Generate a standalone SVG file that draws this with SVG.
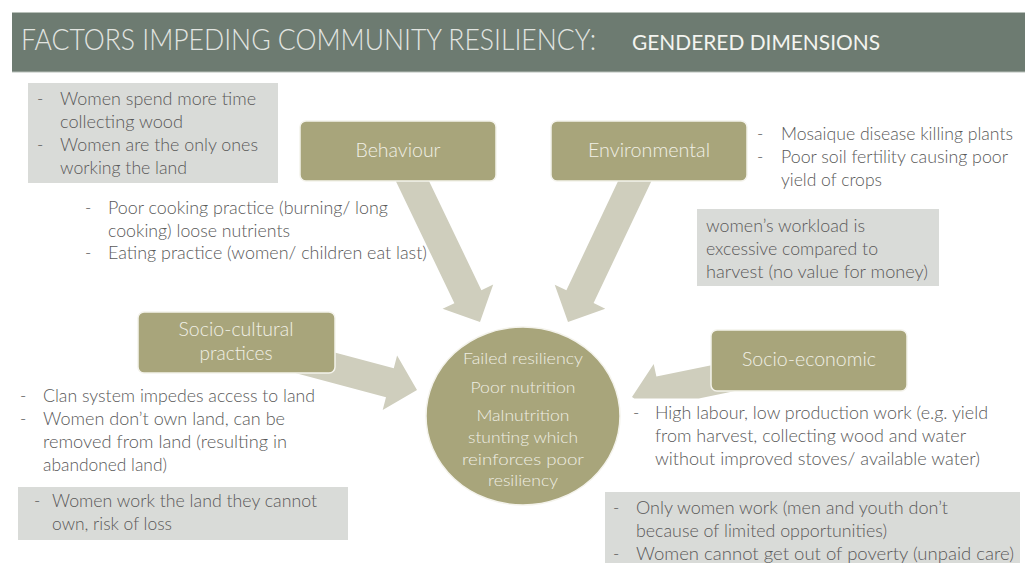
<svg xmlns="http://www.w3.org/2000/svg" width="1025" height="563" viewBox="0 0 1025 563">
  <style>
    .t { font-family: Lato, "Open Sans", "Liberation Sans", sans-serif; font-weight: 300; }
    .bul { font-size: 17px; fill: #595959; }
    .lbl { font-size: 19px; fill: #f1f0e6; text-anchor: middle; }
    .ctr { font-size: 16.5px; fill: #efeee3; text-anchor: middle; }
    .note { fill: #d9dbd8; }
    .box { fill: #a8a57b; stroke: #f4f3ec; stroke-width: 1.5; }
    .arrow { fill: #cfcebd; }
  </style>

  <rect width="1025" height="563" fill="#ffffff"/>

  <!-- title band -->
  <g id="title">
    <rect x="12" y="12.5" width="1013" height="59.5" fill="#6d7b71"/>
    <line x1="12" y1="12.5" x2="1025" y2="12.5" stroke="#b8c0b9" stroke-width="1.2"/>
    <line x1="12" y1="72" x2="1025" y2="72" stroke="#b8c0b9" stroke-width="1.2"/>
    <text class="t" x="21" y="50" font-size="29" fill="#e2e5e1" textLength="575" lengthAdjust="spacingAndGlyphs">FACTORS IMPEDING COMMUNITY RESILIENCY:</text>
    <text x="632" y="50" font-family="Lato, 'Open Sans', 'Liberation Sans', sans-serif" font-size="21" fill="#f3f4f0" textLength="248" lengthAdjust="spacingAndGlyphs">GENDERED DIMENSIONS</text>
  </g>

  <!-- block arrows converging on the centre -->
  <g id="connectors">
    <polygon class="arrow" points="384.5,157.5 454.4,303.2 442.6,308.8 480,322 493.2,284.6 481.4,290.2 411.5,144.5"/>
    <polygon class="arrow" points="635.4,144.6 566.4,290.3 554.7,284.7 568,322 605.3,308.7 593.6,303.1 662.6,157.4"/>
    <polygon class="arrow" points="240.9,327.5 393.8,368.3 397.1,355.6 417,390 382.7,409.9 386,397.3 233.1,356.5"/>
    <polygon class="arrow" points="632,397 653.7,363.9 656.4,376.6 806,345.8 812,375.2 698.8,398.5 634.3,398.5"/>
  </g>

  <!-- behaviour -->
  <g id="behaviour">
    <rect class="box" x="300" y="121" width="196" height="60" rx="6"/>
    <text class="t lbl" x="398" y="157" textLength="85" lengthAdjust="spacingAndGlyphs">Behaviour</text>
  </g>
  <g id="behaviour-notes" class="t bul">
    <text x="85" y="214">-</text>
    <text x="108" y="214" textLength="280" lengthAdjust="spacingAndGlyphs">Poor cooking practice (burning/ long</text>
    <text x="108" y="237" textLength="182" lengthAdjust="spacingAndGlyphs">cooking) loose nutrients</text>
    <text x="85" y="259">-</text>
    <text x="108" y="259" textLength="319" lengthAdjust="spacingAndGlyphs">Eating practice (women/ children eat last)</text>
  </g>
  <g id="women-time">
    <rect class="note" x="28" y="83" width="250" height="100"/>
    <g class="t bul">
      <text x="37" y="105">-</text>
      <text x="60" y="105" textLength="196" lengthAdjust="spacingAndGlyphs">Women spend  more time</text>
      <text x="60" y="128" textLength="123" lengthAdjust="spacingAndGlyphs">collecting wood</text>
      <text x="37" y="151">-</text>
      <text x="60" y="151" textLength="198" lengthAdjust="spacingAndGlyphs">Women are the only ones</text>
      <text x="60" y="174" textLength="127" lengthAdjust="spacingAndGlyphs">working the land</text>
    </g>
  </g>

  <!-- environmental -->
  <g id="environmental">
    <rect class="box" x="551" y="121" width="196" height="60" rx="6"/>
    <text class="t lbl" x="649" y="157" textLength="122" lengthAdjust="spacingAndGlyphs">Environmental</text>
  </g>
  <g id="environmental-notes" class="t bul">
    <text x="757" y="140">-</text>
    <text x="781" y="140" textLength="232" lengthAdjust="spacingAndGlyphs">Mosaique disease killing plants</text>
    <text x="757" y="163">-</text>
    <text x="781" y="163" textLength="227" lengthAdjust="spacingAndGlyphs">Poor soil fertility causing poor</text>
    <text x="781" y="186" textLength="101" lengthAdjust="spacingAndGlyphs">yield of crops</text>
  </g>
  <g id="workload">
    <rect class="note" x="697" y="209" width="242" height="77"/>
    <g class="t bul">
      <text x="706" y="232" textLength="159" lengthAdjust="spacingAndGlyphs">women’s workload is</text>
      <text x="706" y="255" textLength="172" lengthAdjust="spacingAndGlyphs">excessive compared to</text>
      <text x="706" y="278" textLength="222" lengthAdjust="spacingAndGlyphs">harvest (no value for money)</text>
    </g>
  </g>

  <!-- socio-cultural practices -->
  <g id="socio-cultural">
    <rect class="box" x="138" y="312" width="197" height="61" rx="6"/>
    <text class="t lbl" x="236" y="336" textLength="115" lengthAdjust="spacingAndGlyphs">Socio-cultural</text>
    <text class="t lbl" x="236" y="360" textLength="73" lengthAdjust="spacingAndGlyphs">practices</text>
  </g>
  <g id="socio-cultural-notes" class="t bul">
    <text x="20" y="402">-</text>
    <text x="43" y="402" textLength="272" lengthAdjust="spacingAndGlyphs">Clan system impedes access to land</text>
    <text x="20" y="425">-</text>
    <text x="43" y="425" textLength="242" lengthAdjust="spacingAndGlyphs">Women don’t own land, can be</text>
    <text x="43" y="448" textLength="244" lengthAdjust="spacingAndGlyphs">removed from land (resulting in</text>
    <text x="43" y="471" textLength="124" lengthAdjust="spacingAndGlyphs">abandoned land)</text>
  </g>
  <g id="land-risk">
    <rect class="note" x="18" y="487" width="330" height="53"/>
    <g class="t bul">
      <text x="34" y="507">-</text>
      <text x="52" y="507" textLength="265" lengthAdjust="spacingAndGlyphs">Women work the land they cannot</text>
      <text x="52" y="530" textLength="120" lengthAdjust="spacingAndGlyphs">own, risk of loss</text>
    </g>
  </g>

  <!-- socio-economic -->
  <g id="socio-economic">
    <rect class="box" x="711" y="330" width="196" height="61" rx="6"/>
    <text class="t lbl" x="809" y="366" textLength="134" lengthAdjust="spacingAndGlyphs">Socio-economic</text>
  </g>
  <g id="socio-economic-notes" class="t bul">
    <text x="633" y="419">-</text>
    <text x="655" y="419" textLength="333" lengthAdjust="spacingAndGlyphs">High labour, low production work (e.g. yield</text>
    <text x="655" y="442" textLength="311" lengthAdjust="spacingAndGlyphs">from harvest, collecting wood and water</text>
    <text x="655" y="465" textLength="325" lengthAdjust="spacingAndGlyphs">without improved stoves/ available water)</text>
  </g>
  <g id="women-work">
    <rect class="note" x="605" y="492" width="415" height="71"/>
    <g class="t bul">
      <text x="613" y="514">-</text>
      <text x="636" y="514" textLength="312" lengthAdjust="spacingAndGlyphs">Only women work (men and youth don’t</text>
      <text x="636" y="537" textLength="251" lengthAdjust="spacingAndGlyphs">because of limited opportunities)</text>
      <text x="613" y="560">-</text>
      <text x="636" y="560" textLength="378" lengthAdjust="spacingAndGlyphs">Women cannot get out of poverty (unpaid  care)</text>
    </g>
  </g>

  <!-- central outcome -->
  <g id="outcome">
    <ellipse cx="523" cy="416" rx="97" ry="89" fill="#a8a57b" stroke="#f4f3ec" stroke-width="1.5"/>
    <g class="t ctr">
      <text x="523" y="364" textLength="120" lengthAdjust="spacingAndGlyphs">Failed resiliency</text>
      <text x="523" y="393" textLength="105" lengthAdjust="spacingAndGlyphs">Poor nutrition</text>
      <text x="523" y="421" textLength="93" lengthAdjust="spacingAndGlyphs">Malnutrition</text>
      <text x="523" y="443" textLength="110" lengthAdjust="spacingAndGlyphs">stunting which</text>
      <text x="523" y="465" textLength="122" lengthAdjust="spacingAndGlyphs">reinforces poor</text>
      <text x="523" y="486" textLength="70" lengthAdjust="spacingAndGlyphs">resiliency</text>
    </g>
  </g>
</svg>
